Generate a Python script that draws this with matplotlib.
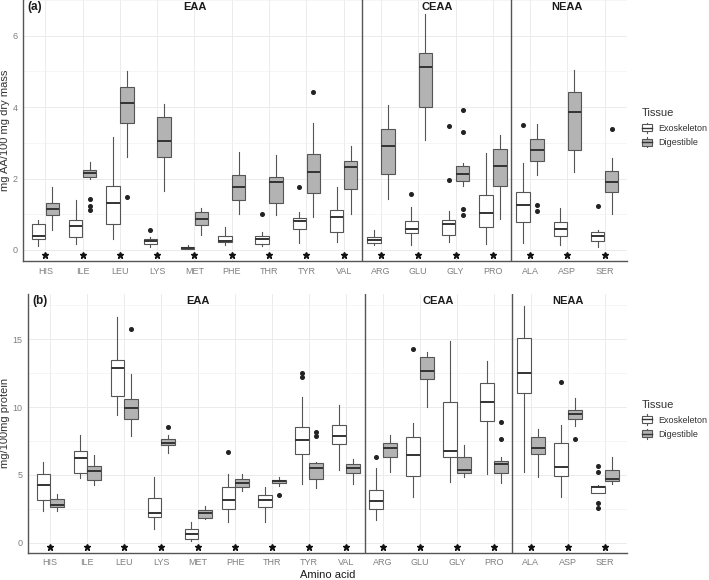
import numpy as np
import matplotlib.pyplot as plt
from matplotlib.ticker import MultipleLocator
from matplotlib.patches import Rectangle
from matplotlib.lines import Line2D
from matplotlib.legend_handler import HandlerBase

plt.rcParams['font.family'] = ['Liberation Sans', 'DejaVu Sans']

aa = ['HIS', 'ILE', 'LEU', 'LYS', 'MET', 'PHE', 'THR', 'TYR', 'VAL',
      'ARG', 'GLU', 'GLY', 'PRO', 'ALA', 'ASP', 'SER']
groups = ['EAA', 'CEAA', 'NEAA']
group_size = [9, 4, 3]
tissues = ['Exoskeleton', 'Digestible']

# (a) mg AA / 100 mg dry mass : whislo, q1, median, q3, whishi
a_exo = [[0.11, 0.30, 0.40, 0.72, 0.84], [0.17, 0.37, 0.67, 0.84, 1.40],
         [0.31, 0.73, 1.31, 1.79, 3.15], [0.07, 0.17, 0.25, 0.30, 0.36],
         [0.02, 0.04, 0.065, 0.09, 0.14], [0.14, 0.21, 0.26, 0.40, 0.63],
         [0.11, 0.16, 0.30, 0.40, 0.49], [0.19, 0.58, 0.81, 0.90, 1.06],
         [0.23, 0.49, 0.91, 1.12, 1.77], [0.14, 0.20, 0.29, 0.36, 0.57],
         [0.15, 0.47, 0.58, 0.82, 1.20], [0.23, 0.42, 0.73, 0.84, 1.10],
         [0.17, 0.64, 1.04, 1.54, 2.72], [0.19, 0.78, 1.26, 1.63, 2.44],
         [0.15, 0.39, 0.60, 0.79, 1.17], [0.07, 0.24, 0.39, 0.50, 0.56]]
a_exo_out = [[], [], [], [0.57], [], [], [1.0], [1.76], [],
             [], [1.56], [1.97, 3.47], [], [3.51], [], [1.23]]
a_dig = [[0.56, 0.98, 1.14, 1.31, 1.75], [2.00, 2.03, 2.15, 2.24, 2.47],
         [2.61, 3.55, 4.12, 4.57, 5.00], [1.66, 2.61, 3.05, 3.72, 4.08],
         [0.42, 0.70, 0.87, 1.06, 1.17], [1.01, 1.40, 1.75, 2.10, 2.73],
         [0.98, 1.31, 1.90, 2.05, 2.66], [0.92, 1.59, 2.18, 2.68, 3.55],
         [1.00, 1.71, 2.33, 2.50, 2.91], [1.43, 2.13, 2.91, 3.38, 4.07],
         [3.08, 4.00, 5.11, 5.52, 6.60], [1.78, 1.92, 2.13, 2.36, 2.43],
         [0.87, 1.79, 2.34, 2.84, 3.22], [2.10, 2.48, 2.79, 3.11, 3.52],
         [2.18, 2.79, 3.85, 4.42, 5.05], [1.01, 1.62, 1.90, 2.22, 2.57]]
a_dig_out = [[], [1.11, 1.24, 1.44], [1.49], [], [], [], [], [4.43], [],
             [], [], [0.98, 1.15, 3.30, 3.91], [], [1.08, 1.26], [], [3.39]]

# (b) mg / 100 mg protein
b_exo = [[2.34, 3.15, 4.25, 5.09, 5.93], [4.75, 5.11, 6.22, 6.79, 7.94],
         [9.42, 10.84, 12.91, 13.47, 16.67], [1.01, 1.87, 2.16, 3.32, 4.82],
         [0.12, 0.25, 0.64, 1.03, 1.55], [1.50, 2.46, 3.15, 4.13, 5.07],
         [1.55, 2.66, 3.15, 3.54, 4.08], [4.33, 6.54, 7.60, 8.51, 10.77],
         [5.36, 7.30, 7.87, 8.70, 10.15], [1.67, 2.51, 3.07, 3.86, 5.48],
         [3.39, 4.92, 6.49, 7.82, 8.85], [4.50, 6.29, 6.76, 10.40, 14.88],
         [5.04, 8.97, 10.40, 11.75, 13.40], [5.19, 11.06, 12.54, 15.12, 17.48],
         [3.34, 4.92, 5.61, 7.33, 8.68], [3.64, 3.69, 4.13, 4.20, 4.25]]
b_exo_out = [[], [], [], [], [], [6.69], [], [12.22, 12.52], [],
             [6.34], [14.26], [], [], [], [11.88], [2.58, 2.90, 5.19, 5.68]]
b_dig = [[2.36, 2.63, 2.80, 3.20, 3.57], [4.25, 4.62, 5.31, 5.63, 6.47],
         [7.87, 9.12, 9.96, 10.57, 12.42], [6.64, 7.18, 7.38, 7.67, 7.94],
         [1.77, 1.84, 2.16, 2.39, 2.73], [3.84, 4.08, 4.38, 4.70, 5.04],
         [4.18, 4.38, 4.52, 4.62, 4.87], [4.01, 4.72, 5.48, 5.85, 5.95],
         [4.33, 5.16, 5.48, 5.80, 6.15], [5.21, 6.32, 7.01, 7.33, 7.92],
         [10.03, 12.05, 12.66, 13.72, 14.09], [4.82, 5.11, 5.36, 6.32, 7.18],
         [4.38, 5.11, 5.80, 6.00, 6.34], [4.84, 6.54, 7.01, 7.82, 8.38],
         [8.61, 9.12, 9.49, 9.76, 10.70], [4.30, 4.55, 4.67, 5.36, 6.34]]
b_dig_out = [[], [], [15.79], [8.51], [], [], [3.52], [7.89, 8.14], [],
             [], [], [], [7.65, 8.88], [], [7.62], []]

FILL = {'Exoskeleton': 'white', 'Digestible': '#b3b3b3'}
EDGE = '#555555'
MED = '#333333'


def stats_list(st, out):
    res = []
    for s, o in zip(st, out):
        res.append(dict(whislo=s[0], q1=s[1], med=s[2], q3=s[3], whishi=s[4], fliers=o))
    return res


def draw_panel(ax, exo, exo_out, dig, dig_out, ylim, major, minor, ylabel, tag, star_y, lab_x):
    x = np.arange(1, len(aa) + 1)
    for data, out, off, t in [(exo, exo_out, -0.1875, 'Exoskeleton'),
                              (dig, dig_out, 0.1875, 'Digestible')]:
        ax.bxp(stats_list(data, out), positions=x + off, widths=0.36,
               patch_artist=True, showcaps=False,
               boxprops=dict(facecolor=FILL[t], edgecolor=EDGE, linewidth=0.8),
               whiskerprops=dict(color=EDGE, linewidth=0.8),
               medianprops=dict(color=MED, linewidth=1.4),
               flierprops=dict(marker='o', markersize=2.6, markerfacecolor='#222222',
                               markeredgecolor='#222222'))
    # significance stars
    ax.plot(x, [star_y] * len(x), linestyle='none', marker='*', markersize=4.5,
            color='#111111')
    ax.set_xlim(0.4, len(aa) + 0.6)
    ax.set_ylim(*ylim)
    ax.set_xticks(x)
    ax.set_xticklabels(aa)
    ax.yaxis.set_major_locator(MultipleLocator(major))
    ax.yaxis.set_minor_locator(MultipleLocator(minor))
    ax.tick_params(axis='both', which='both', length=0, labelsize=6.5,
                   labelcolor='#7f7f7f', pad=4)
    ax.grid(True, which='major', color='#ebebeb', linewidth=0.7)
    ax.yaxis.grid(True, which='minor', color='#f2f2f2', linewidth=0.5)
    ax.set_axisbelow(True)
    for s in ['top', 'right']:
        ax.spines[s].set_visible(False)
    for s in ['left', 'bottom']:
        ax.spines[s].set_color('#555555')
        ax.spines[s].set_linewidth(1.0)
    # facet separators and strip labels
    edges = np.cumsum([0] + group_size) + 0.5
    for e in edges[1:-1]:
        ax.axvline(e, color='#555555', linewidth=1.0)
    for g, lo, hi in zip(groups, edges[:-1], edges[1:]):
        lo_v = max(lo, 0.4)
        hi_v = min(hi, len(aa) + 0.6)
        ax.text((lo_v + hi_v) / 2, 0.972, g, transform=ax.get_xaxis_transform(),
                ha='center', va='center', fontsize=8, fontweight='bold', color='#1a1a1a')
    ax.text(0.008, 0.972, tag, transform=ax.transAxes, ha='left', va='center',
            fontsize=8.5, fontweight='bold', color='#1a1a1a')
    ax.set_ylabel(ylabel, fontsize=8, color='#333333')
    ax.yaxis.set_label_coords(lab_x, 0.5)


class BoxHandler(HandlerBase):
    def create_artists(self, legend, orig_handle, xdescent, ydescent, width, height,
                       fontsize, trans):
        x0, y0 = -xdescent, -ydescent
        cx = x0 + width / 2
        fc = orig_handle.get_facecolor()
        whisk = Line2D([cx, cx], [y0 - height * 0.25, y0 + height * 1.25],
                       color=EDGE, linewidth=0.8, transform=trans)
        box = Rectangle((x0 + width * 0.1, y0), width * 0.8, height, facecolor=fc,
                        edgecolor=EDGE, linewidth=0.8, transform=trans)
        med = Line2D([x0 + width * 0.1, x0 + width * 0.9], [y0 + height / 2] * 2,
                     color=MED, linewidth=1.0, transform=trans)
        return [whisk, box, med]


fig = plt.figure(figsize=(7.09, 5.80), dpi=100)
ax1 = fig.add_axes([0.0324, 0.55, 0.852, 0.45])
ax2 = fig.add_axes([0.0395, 0.047, 0.845, 0.446])

draw_panel(ax1, a_exo, a_exo_out, a_dig, a_dig_out, (-0.31, 7.0), 2, 1,
           'mg AA/100 mg dry mass', '(a)', -0.14, -0.022)
draw_panel(ax2, b_exo, b_exo_out, b_dig, b_dig_out, (-0.74, 18.34), 5, 2.5,
           'mg/100mg protein', '(b)', -0.3, -0.03)
ax2.set_xlabel('Amino acid', fontsize=8, color='#1a1a1a', labelpad=2)

handles = [Rectangle((0, 0), 1, 1, facecolor=FILL[t]) for t in tissues]
for ytop in [0.827, 0.324]:
    leg = fig.legend(handles, tissues, loc='upper left', bbox_to_anchor=(0.893, ytop),
                     frameon=False, fontsize=6.5, title='Tissue', title_fontsize=8,
                     handler_map={Rectangle: BoxHandler()}, handlelength=1.3,
                     handleheight=0.8, handletextpad=0.6, labelspacing=0.6)
    leg._legend_box.align = 'left'
    for txt in leg.get_texts():
        txt.set_color('#333333')
    leg.get_title().set_color('#333333')

fig.savefig('out.png', dpi=100)
